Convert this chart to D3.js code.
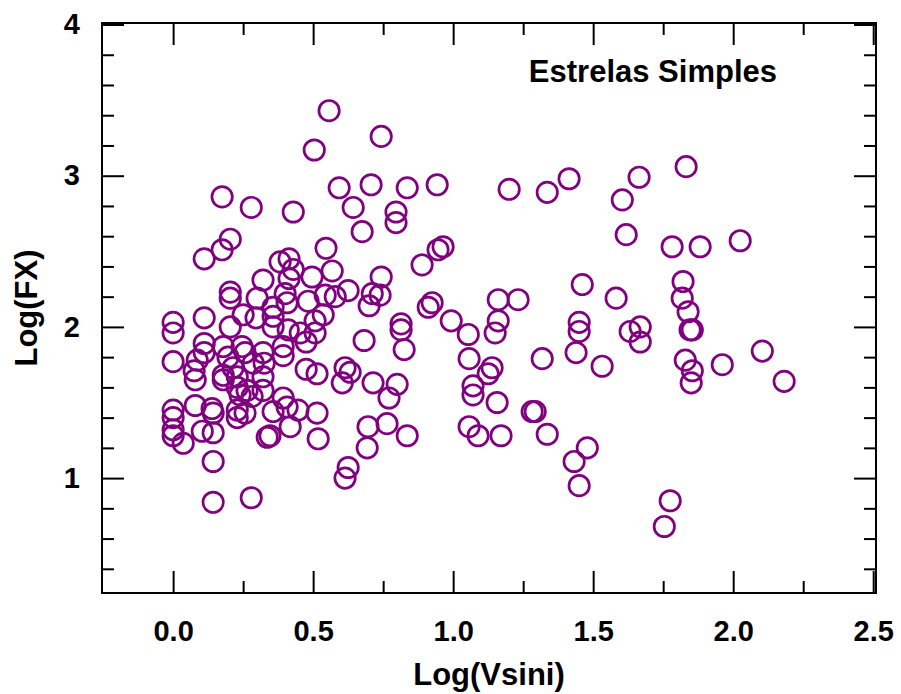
<!DOCTYPE html>
<html>
<head>
<meta charset="utf-8">
<script src="https://cdn.jsdelivr.net/npm/d3@7/dist/d3.min.js"></script>
<style>
  body { margin: 0; background: #fff; }
  svg text { font-family: Arial, "Liberation Sans", sans-serif; font-weight: bold; fill: #000; }
</style>
</head>
<body>
<div class="chart"></div>
<script>
// log(vsini) of each star
var vsini = [
  0.557, 0.743, 0.504, 1.832, 1.664, 1.414, 0.707, 0.943, 0.593, 0.836,
  1.200, 1.336, 0.175, 1.604, 0.279, 0.643, 0.429, 0.796, 0.796, 0.675,
  0.204, 1.618, 2.025, 0.175, 1.782, 1.882, 0.964, 0.946, 0.546, 0.111,
  0.382, 0.414, 0.429, 0.889, 0.568, 0.414, 0.321, 0.496, 0.743, 1.461,
  1.821, 0.204, 0.204, 0.300, 0.400, 0.407, 0.482, 0.625, 0.543, 0.579,
  0.711, 0.739, 0.700, 0.925, 0.911, 1.161, 1.232, 1.582, 1.818, 1.839,
  0.357, 0.357, 0.111, 0.250, 0.536, 0.993, 0.000, 0.000, 0.296, 0.357,
  0.411, 0.454, 0.475, 0.507, 0.507, 0.204, 0.393, 0.393, 0.000, 0.111,
  0.111, 0.086, 0.075, 0.079, 0.179, 0.196, 0.246, 0.257, 0.286, 0.321,
  0.325, 0.321, 0.214, 0.179, 0.179, 0.229, 0.229, 0.239, 0.264, 0.321,
  0.282, 0.475, 0.514, 0.000, 0.000, 0.000, 0.000, 0.079, 0.139, 0.143,
  0.104, 0.143, 0.036, 0.229, 0.229, 0.257, 0.393, 0.407, 0.357, 0.446,
  0.418, 0.346, 0.336, 0.514, 0.518, 0.143, 0.143, 0.279, 0.682, 0.814,
  0.814, 0.825, 1.054, 1.057, 1.071, 1.071, 1.057, 1.089, 0.614, 0.632,
  0.604, 0.714, 0.800, 0.771, 0.696, 0.764, 0.836, 0.693, 0.625, 0.614,
  1.161, 1.150, 1.139, 1.125, 1.157, 1.282, 1.293, 1.171, 1.336, 1.318,
  1.450, 1.450, 1.439, 1.532, 1.632, 1.668, 1.668, 1.479, 1.432, 1.450,
  1.829, 1.854, 1.850, 1.961, 2.104, 2.182, 1.775, 1.754, 1.846, 1.854
];

// log(fx) for the same stars
var logfx = [
  3.43, 3.26, 3.17, 3.06, 2.99, 2.98, 2.94, 2.94, 2.92, 2.92,
  2.91, 2.89, 2.86, 2.84, 2.79, 2.79, 2.76, 2.76, 2.69, 2.63,
  2.58, 2.61, 2.57, 2.51, 2.53, 2.53, 2.53, 2.51, 2.52, 2.45,
  2.43, 2.45, 2.38, 2.41, 2.37, 2.32, 2.31, 2.33, 2.33, 2.28,
  2.30, 2.23, 2.19, 2.19, 2.22, 2.16, 2.17, 2.24, 2.21, 2.20,
  2.22, 2.21, 2.14, 2.16, 2.13, 2.18, 2.18, 2.19, 2.19, 2.10,
  2.13, 2.07, 2.06, 2.08, 2.08, 2.04, 2.03, 1.96, 2.06, 2.00,
  1.98, 1.96, 1.90, 2.04, 1.96, 2.00, 1.87, 1.81, 1.77, 1.89,
  1.83, 1.78, 1.71, 1.65, 1.87, 1.80, 1.87, 1.83, 1.76, 1.83,
  1.76, 1.67, 1.73, 1.68, 1.65, 1.67, 1.60, 1.55, 1.58, 1.58,
  1.54, 1.72, 1.69, 1.45, 1.40, 1.32, 1.28, 1.48, 1.46, 1.43,
  1.31, 1.30, 1.23, 1.45, 1.40, 1.43, 1.53, 1.47, 1.44, 1.45,
  1.34, 1.28, 1.27, 1.43, 1.26, 1.11, 0.84, 0.87, 1.91, 2.02,
  1.98, 1.85, 1.95, 1.79, 1.61, 1.55, 1.34, 1.28, 1.73, 1.70,
  1.63, 1.63, 1.62, 1.53, 1.34, 1.36, 1.28, 1.20, 1.07, 1.00,
  2.04, 1.96, 1.73, 1.69, 1.50, 1.44, 1.44, 1.28, 1.29, 1.79,
  2.03, 1.97, 1.83, 1.74, 1.97, 2.00, 1.90, 1.20, 1.11, 0.95,
  1.78, 1.71, 1.63, 1.75, 1.84, 1.64, 0.85, 0.68, 1.98, 1.98
];

// tick values
var xMajor = [0, 0.5, 1.0, 1.5, 2.0, 2.5];
var xMinor = [0.25, 0.75, 1.25, 1.75, 2.25];
var yMajor = [1, 2, 3, 4];
var yMinor = [0.4, 0.6, 0.8, 1.2, 1.4, 1.6, 1.8, 2.2, 2.4, 2.6, 2.8, 3.2, 3.4, 3.6, 3.8];

var titleText = "Estrelas Simples";
var xTitle = "Log(Vsini)";
var yTitle = "Log(FX)";

(function () {
    var width = 901, height = 694;
    // plot frame in pixels
    var fl = 102, fr = 876, ft = 23, fb = 593;

    var svg = d3.select('.chart').append('svg')
        .attr('width', width)
        .attr('height', height);

    var x = d3.scaleLinear().domain([-0.254, 2.51]).range([fl, fr]);
    var y = d3.scaleLinear().domain([0.24, 4.01]).range([fb, ft]);

    // draw a set of inward ticks, optionally with labels
    function ticks(axis, pos, vals, len, fmt, pad) {
        var g = svg.append('g')
            .attr('transform', pos)
            .call(axis.tickValues(vals).tickSize(-len).tickPadding(pad || 0).tickFormat(fmt || ''));
        g.select('.domain').remove();
        g.selectAll('line').attr('stroke', '#000').attr('stroke-width', 2);
        g.selectAll('text')
            .style('font-size', '29px')
            .style('font-family', 'Arial, "Liberation Sans", sans-serif')
            .style('font-weight', 'bold');
        return g;
    }

    // bottom + left carry the labels
    ticks(d3.axisBottom(x), 'translate(0,' + fb + ')', xMajor, 22, d3.format('.1f'), 27);
    ticks(d3.axisBottom(x), 'translate(0,' + fb + ')', xMinor, 12);
    ticks(d3.axisLeft(y), 'translate(' + fl + ',0)', yMajor, 22, d3.format('d'), 22);
    ticks(d3.axisLeft(y), 'translate(' + fl + ',0)', yMinor, 12);

    // top + right only mirror the ticks
    ticks(d3.axisTop(x), 'translate(0,' + ft + ')', xMajor, 22);
    ticks(d3.axisTop(x), 'translate(0,' + ft + ')', xMinor, 12);
    ticks(d3.axisRight(y), 'translate(' + fr + ',0)', yMajor, 22);
    ticks(d3.axisRight(y), 'translate(' + fr + ',0)', yMinor, 12);

    // frame
    svg.append('rect')
        .attr('x', fl)
        .attr('y', ft)
        .attr('width', fr - fl)
        .attr('height', fb - ft)
        .attr('fill', 'none')
        .attr('stroke', '#000')
        .attr('stroke-width', 2);

    // the stars
    var pts = vsini.map(function (v, i) { return { x: v, y: logfx[i] }; });
    svg.append('g').selectAll('circle')
        .data(pts)
        .enter().append('circle')
        .attr('cx', function (d) { return x(d.x); })
        .attr('cy', function (d) { return y(d.y); })
        .attr('r', 10.2)
        .attr('fill', 'none')
        .attr('stroke', '#800080')
        .attr('stroke-width', 2.7);

    // titles
    svg.append('text')
        .attr('x', 777)
        .attr('y', 82)
        .attr('text-anchor', 'end')
        .style('font-size', '31px')
        .text(titleText);

    svg.append('text')
        .attr('x', (fl + fr) / 2)
        .attr('y', 685)
        .attr('text-anchor', 'middle')
        .style('font-size', '31px')
        .text(xTitle);

    svg.append('text')
        .attr('transform', 'translate(37,' + (ft + fb) / 2 + ') rotate(-90)')
        .attr('text-anchor', 'middle')
        .style('font-size', '31px')
        .text(yTitle);
})();
</script>
</body>
</html>
